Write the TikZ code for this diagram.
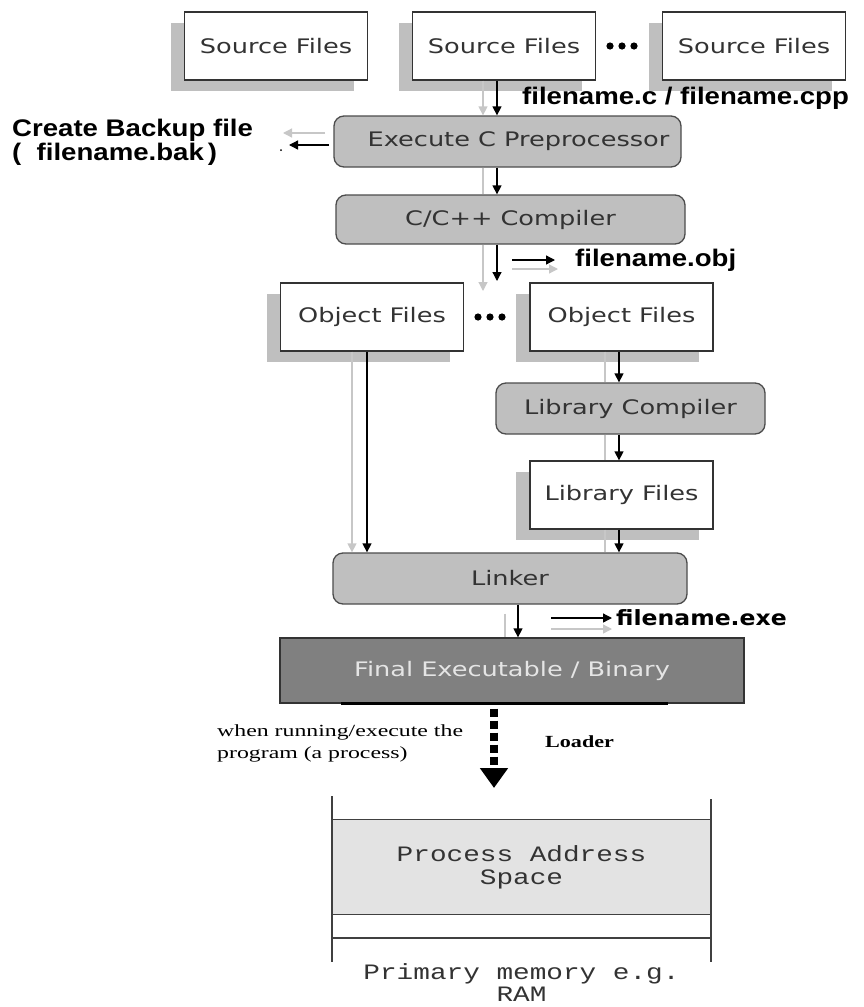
\documentclass[tikz,border=0pt]{standalone}
\usepackage{fontspec}
\setmainfont{DejaVu Sans}
\newfontfamily\boxfont[FakeStretch=1.28]{DejaVu Sans}
\newfontfamily\lblfont[FakeStretch=1.15]{Liberation Sans}
\newfontfamily\exefont[FakeStretch=1.12]{DejaVu Sans}
\newfontfamily\runfont[FakeStretch=1.4]{Liberation Serif}
\newfontfamily\loadfont[FakeStretch=1.3]{Liberation Serif}
\newfontfamily\memfont[FakeStretch=1.26]{Liberation Mono}
\usetikzlibrary{arrows.meta,shadows}
\begin{document}
\begin{tikzpicture}[x=1pt,y=-1pt,
  shd/.style={drop shadow={shadow xshift=-14pt,shadow yshift=-11pt,fill=black!25,opacity=1}},
  filebox/.style={draw=black!80,line width=1.3pt,fill=white,minimum width=183pt,minimum height=68pt,inner sep=0pt,font=\boxfont\fontsize{20}{24}\selectfont,text=black!80,shd},
  procbox/.style={draw=black!70,line width=1.3pt,fill=black!25,rounded corners=10pt,inner sep=0pt,font=\boxfont\fontsize{20}{24}\selectfont,text=black!80},
  arr/.style={-{Triangle[length=9pt,width=9pt]},line width=1.3pt,black},
  garr/.style={-{Triangle[length=9pt,width=9pt]},line width=1.3pt,black!22},
  gline/.style={line width=1.3pt,black!22},
  lbl/.style={font=\lblfont\bfseries\fontsize{24}{25}\selectfont,inner sep=0pt,anchor=west},
  exel/.style={font=\exefont\bfseries\fontsize{21}{22}\selectfont,inner sep=0pt,anchor=west},
  memline/.style={line width=1.3pt,black!75},
  memtext/.style={font=\memfont\fontsize{22}{23}\selectfont,inner sep=0pt,align=center,text=black!80},
  loadarr/.style={-{Triangle[length=20pt,width=27pt]},line width=8pt,dash pattern=on 8pt off 4pt,black}
]
\useasboundingbox (0,0) rectangle (863,1007);

% source files
\node[filebox] (b1) at (276,46) {Source Files};
\node[filebox] (b2) at (504,46) {Source Files};
\node[filebox] (b3) at (754,46) {Source Files};
\fill (610,46) circle[radius=3.6pt] (622,46) circle[radius=3.6pt] (634,46) circle[radius=3.6pt];

% process boxes
\node[procbox,minimum width=347pt,minimum height=51pt] (pre) at (507.5,141.5) {\hspace*{22pt}Execute C Preprocessor};
\node[procbox,minimum width=349pt,minimum height=49pt] (comp) at (510.5,219.5) {C/C++ Compiler};

% object files
\node[filebox] (o1) at (372,317) {Object Files};
\node[filebox] (o2) at (621.5,317) {Object Files};
\fill (478,317) circle[radius=3.6pt] (490,317) circle[radius=3.6pt] (502,317) circle[radius=3.6pt];

\node[procbox,minimum width=269pt,minimum height=51pt] (lc) at (630.5,408.5) {Library Compiler};
\node[filebox] (lf) at (621.5,495) {Library Files};
\node[procbox,minimum width=354pt,minimum height=51pt] (lnk) at (510,578.5) {Linker};

\node[draw=black!80,line width=1.3pt,fill=black!50,minimum width=464pt,minimum height=65pt,inner sep=0pt,
      font=\boxfont\fontsize{20}{24}\selectfont,text=black!10] (fin) at (512,670.5) {Final Executable / Binary};
\draw[line width=2.5pt] ([xshift=62pt]fin.south west) -- ([xshift=-77pt]fin.south east);

% labels
\node[lbl] (fc) at (522,98) {filename.c / filename.cpp};
\node[lbl,align=left] (bak) at (12,142.5) {Create Backup file\\[-1pt]( \ filename.bak\,)};
\node[lbl] (fobj) at (575,260) {filename.obj};
\node[exel] (fexe) at (616,618) {filename.exe};

% x positions
\coordinate (xA) at (497,0);
\coordinate (xAg) at (483,0);
\coordinate (xO) at (367,0);
\coordinate (xOg) at (352,0);
\coordinate (xR) at (619,0);
\coordinate (xRg) at (605,0);
\coordinate (xL) at (518,0);
\coordinate (xLg) at (505,0);
\coordinate (xD) at (494,0);

% source -> preprocessor
\draw[garr] (b2.south -| xAg) -- (pre.north -| xAg);
\draw[arr] (b2.south -| xA) -- (pre.north -| xA);
% backup
\coordinate (bk1) at (329,145);
\coordinate (bk1g) at (325,133);
\draw[garr] (bk1g) -- (283,133);
\draw[arr] (bk1) -- (289,145);
\fill (281,150) circle[radius=1pt];
% preprocessor -> compiler
\draw[gline] (pre.south -| xAg) -- (comp.north -| xAg);
\draw[arr] (pre.south -| xA) -- (comp.north -| xA);
% compiler -> objects
\coordinate (cend) at (497,281);
\coordinate (cendg) at (483,291);
\draw[garr] (comp.south -| xAg) -- (cendg);
\draw[arr] (comp.south -| xA) -- (cend);
\coordinate (ob1) at (512,260);
\coordinate (ob1g) at (512,269);
\draw[garr] (ob1g) -- (558,269);
\draw[arr] (ob1) -- ([xshift=-20pt]fobj.west);
% objects -> linker
\draw[garr] (o1.south -| xOg) -- (lnk.north -| xOg);
\draw[arr] (o1.south -| xO) -- (lnk.north -| xO);
\draw[gline] (o2.south -| xRg) -- (lc.north -| xRg);
\draw[arr] (o2.south -| xR) -- (lc.north -| xR);
\draw[gline] (lc.south -| xRg) -- (lf.north -| xRg);
\draw[arr] (lc.south -| xR) -- (lf.north -| xR);
\draw[gline] (lf.south -| xRg) -- (lnk.north -| xRg);
\draw[arr] (lf.south -| xR) -- (lnk.north -| xR);
% linker -> final
\draw[gline] ([yshift=-9pt]lnk.south -| xLg) -- (fin.north -| xLg);
\draw[arr] (lnk.south -| xL) -- (fin.north -| xL);
\coordinate (ex1) at (551,618);
\coordinate (ex1g) at (551,629);
\draw[garr] (ex1g) -- (612,629);
\draw[arr] (ex1) -- ([xshift=-4pt]fexe.west);

% loader
\coordinate (memtop) at (494,788);
\draw[loadarr,shorten <=5pt] (fin.south -| xD) -- (memtop);
\node[font=\runfont\fontsize{17}{22}\selectfont,inner sep=0pt,anchor=west,align=left] (run) at (217,743) {when running/execute the\\program (a process)};
\node[font=\loadfont\bfseries\fontsize{17}{20}\selectfont,inner sep=0pt,anchor=west] (ld) at (545,742) {Loader};

% memory
\node[fill=black!11,minimum width=379pt,minimum height=94pt,inner sep=0pt,memtext] (pas) at (521.5,867) {Process Address\\Space};
\draw[memline] (332,796) -- (332,962);
\draw[memline] (711,799) -- (711,962);
\draw[memline] (pas.north west) -- (pas.north east);
\draw[memline] (pas.south west) -- (pas.south east);
\draw[memline] (332,938) -- (711,938);
\node[memtext,font=\memfont\fontsize{22}{22}\selectfont] (ram) at (521.5,983) {Primary memory e.g.\\RAM};
\end{tikzpicture}
\end{document}
